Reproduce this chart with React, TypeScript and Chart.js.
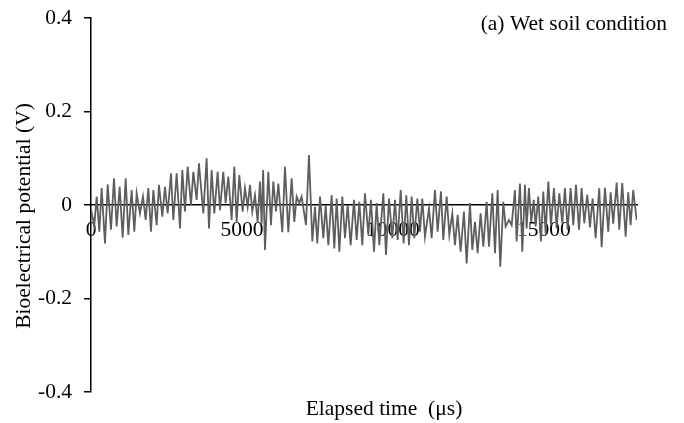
import React, { useEffect, useRef } from "react";
import { Chart, registerables } from "chart.js";

Chart.register(...registerables);

// Recorded trace: sample times (µs) and bioelectrical potential (V)
const ELAPSED_US = [
  0, 110, 188, 276, 353, 463, 552, 662, 761, 850, 949, 1048, 1148, 1236, 1346, 1434, 1512, 1622, 1721, 1810,
  1898, 1986, 2064, 2174, 2251, 2362, 2450, 2538, 2649, 2726, 2836, 2947, 3024, 3112, 3200, 3311, 3388, 3498,
  3575, 3719, 3829, 3907, 3995, 4083, 4194, 4271, 4381, 4458, 4547, 4657, 4745, 4823, 4911, 5021, 5099, 5187,
  5264, 5341, 5430, 5518, 5595, 5650, 5700, 5761, 5871, 5959, 6037, 6125, 6202, 6335, 6423, 6533, 6644, 6732,
  6809, 6898, 6975,
  7119, 7218, 7329, 7417, 7494, 7583, 7693, 7770, 7859, 7969, 8057, 8135, 8223, 8322, 8410, 8499, 8598, 8708,
  8797, 8885, 8984, 9073, 9183, 9271, 9371, 9459, 9547, 9680, 9768, 9867, 9978, 10066, 10154, 10254, 10353,
  10441, 10530, 10618, 10706, 10805, 10894,
  10971, 11059, 11192, 11280, 11390, 11479, 11589, 11666, 11777, 11865, 11964, 12052, 12141, 12240, 12350,
  12439, 12549, 12626, 12715, 12803, 12902, 12991, 13101, 13178, 13289, 13377, 13465, 13553, 13653, 13730,
  13840, 13929, 14039, 14094, 14205, 14282, 14370,
  14425, 14500, 14580, 14660, 14723, 14811, 14900, 14977, 15054, 15143, 15231, 15330, 15419, 15507, 15606,
  15694, 15783, 15882, 15970, 16059, 16158, 16246, 16335, 16434, 16522, 16611, 16710, 16830, 16909, 17019,
  17128, 17207, 17293, 17406, 17492, 17591, 17704, 17790, 17868, 17954, 18070,
];

const POTENTIAL_V = [
  -0.010, -0.043, 0.018, -0.057, 0.036, -0.082, 0.044, -0.053, 0.057, -0.046, 0.039, -0.070, 0.057, -0.064,
  0.032, -0.057, 0.025, -0.018, 0.018, -0.032, 0.036, -0.057, 0.032, -0.043, 0.043, -0.025, 0.039, -0.018,
  0.068, -0.032, 0.068, -0.050, 0.075, -0.014, 0.082, 0.000, 0.071, 0.011,
  0.089, -0.018, 0.100, -0.050, 0.075, -0.018, 0.071, -0.011, 0.071, 0.004, 0.061, -0.032, 0.082, -0.036,
  0.064, -0.014, 0.036, -0.004, 0.043, -0.014, 0.021, -0.036, 0.050, -0.040, 0.075, -0.096, 0.071, -0.043,
  0.050, -0.014, 0.046, -0.058, 0.082, -0.058, 0.057, -0.036, 0.018, 0.004, 0.018,
  -0.043, 0.107, -0.078, -0.004, -0.082, 0.018, -0.071, 0.000, -0.086, 0.021, -0.093, 0.014, -0.100, 0.018,
  -0.071, 0.000, -0.086, 0.011, -0.075, 0.007, -0.086, 0.025, -0.064, 0.011, -0.100, 0.004, -0.086, 0.025,
  -0.107, 0.014, -0.071, 0.011, -0.075, 0.032, -0.082, 0.021, -0.086, 0.018, -0.071, 0.014, -0.057,
  0.014, -0.068, -0.007, -0.071, 0.032, -0.057, 0.029, -0.075, 0.018, -0.064, -0.018, -0.086, -0.021, -0.100,
  -0.014, -0.125, 0.004, -0.096, -0.036, -0.103, -0.018, -0.089, 0.007, -0.089, 0.025, -0.103, 0.032, -0.132,
  0.007, -0.046, -0.032, -0.043, 0.032, -0.078, 0.046, -0.100, 0.043,
  -0.050, 0.036, -0.036, 0.011, -0.046, 0.018, -0.078, 0.029, -0.061, 0.050, -0.043, 0.036, -0.050, 0.025,
  -0.039, 0.036, -0.053, 0.036, -0.043, 0.043, -0.053, 0.036, -0.039, 0.022, -0.048, 0.014, -0.071, 0.036,
  -0.090, 0.037, -0.057, 0.027, -0.040, 0.048, -0.053, 0.047, -0.068, 0.027, -0.043, 0.032, -0.032,
];

const X_TICKS = [0, 5000, 10000, 15000];
const Y_TICKS = [-0.4, -0.2, 0, 0.2, 0.4];
const X_MAX = 18080;

const PANEL_TITLE = "(a) Wet soil condition";
const X_TITLE = "Elapsed time  (\u03bcs)";
const Y_TITLE = "Bioelectrical potential (V)";

const FONT_FAMILY = "'Liberation Serif', 'Times New Roman', serif";
const FONT_SIZE = 21.5;

const titles = {
  id: "titles",
  afterDraw(chart: any) {
    const { ctx, chartArea } = chart;
    ctx.save();
    ctx.fillStyle = "#000";
    ctx.font = `${FONT_SIZE}px ${FONT_FAMILY}`;
    ctx.textBaseline = "alphabetic";
    ctx.textAlign = "right";
    ctx.fillText(PANEL_TITLE, chartArea.right + 30, 30);
    ctx.textAlign = "center";
    ctx.fillText(X_TITLE, 384, 415);
    ctx.translate(24, 216);
    ctx.rotate(-Math.PI / 2);
    ctx.textBaseline = "middle";
    ctx.fillText(Y_TITLE, 0, 0);
    ctx.restore();
  },
};

export default function App() {
  const canvasRef = useRef<HTMLCanvasElement | null>(null);

  useEffect(() => {
    const canvas = canvasRef.current;
    if (!canvas) return;
    const points = ELAPSED_US.map((t, i) => ({ x: t, y: POTENTIAL_V[i] }));
    const chart = new Chart(canvas, {
      type: "line",
      data: {
        datasets: [
          {
            data: points,
            borderColor: "#5e5e5e",
            borderWidth: 1.8,
            pointRadius: 0,
            tension: 0,
            fill: false,
          },
        ],
      },
      options: {
        animation: false,
        responsive: false,
        devicePixelRatio: 1,
        layout: { padding: { left: 0, top: 18, right: 47, bottom: 31 } },
        plugins: {
          legend: { display: false },
          tooltip: { enabled: false },
        },
        scales: {
          x: {
            type: "linear",
            min: 0,
            max: X_MAX,
            position: { y: 0 },
            afterBuildTicks: (s: any) => {
              s.ticks = X_TICKS.map((v) => ({ value: v }));
            },
            grid: { display: false, drawTicks: false },
            border: { display: true, color: "#000", width: 1.5 },
            ticks: {
              padding: 12,
              maxRotation: 0,
              color: "#000",
              font: { family: FONT_FAMILY, size: FONT_SIZE },
              callback: (v: any) => String(v),
            },
          },
          y: {
            type: "linear",
            min: -0.4,
            max: 0.4,
            afterBuildTicks: (s: any) => {
              s.ticks = Y_TICKS.map((v) => ({ value: v }));
            },
            afterFit: (s: any) => {
              s.width = 91;
              s.paddingTop = 0;
              s.paddingBottom = 0;
            },
            grid: {
              display: true,
              drawOnChartArea: false,
              drawTicks: true,
              tickLength: 7,
              color: "#000",
              lineWidth: 1.5,
            },
            border: { display: true, color: "#000", width: 1.5 },
            ticks: {
              padding: 12,
              color: "#000",
              font: { family: FONT_FAMILY, size: FONT_SIZE },
              callback: (v: any) => (Math.abs(Number(v)) < 1e-9 ? "0" : Number(v).toFixed(1)),
            },
          },
        },
      },
      plugins: [titles],
    });
    return () => chart.destroy();
  }, []);

  return (
    <div style={{ position: "absolute", left: 0, top: 0, width: 684, height: 423, background: "#fff" }}>
      <canvas ref={canvasRef} width={684} height={423} style={{ display: "block" }} />
    </div>
  );
}
